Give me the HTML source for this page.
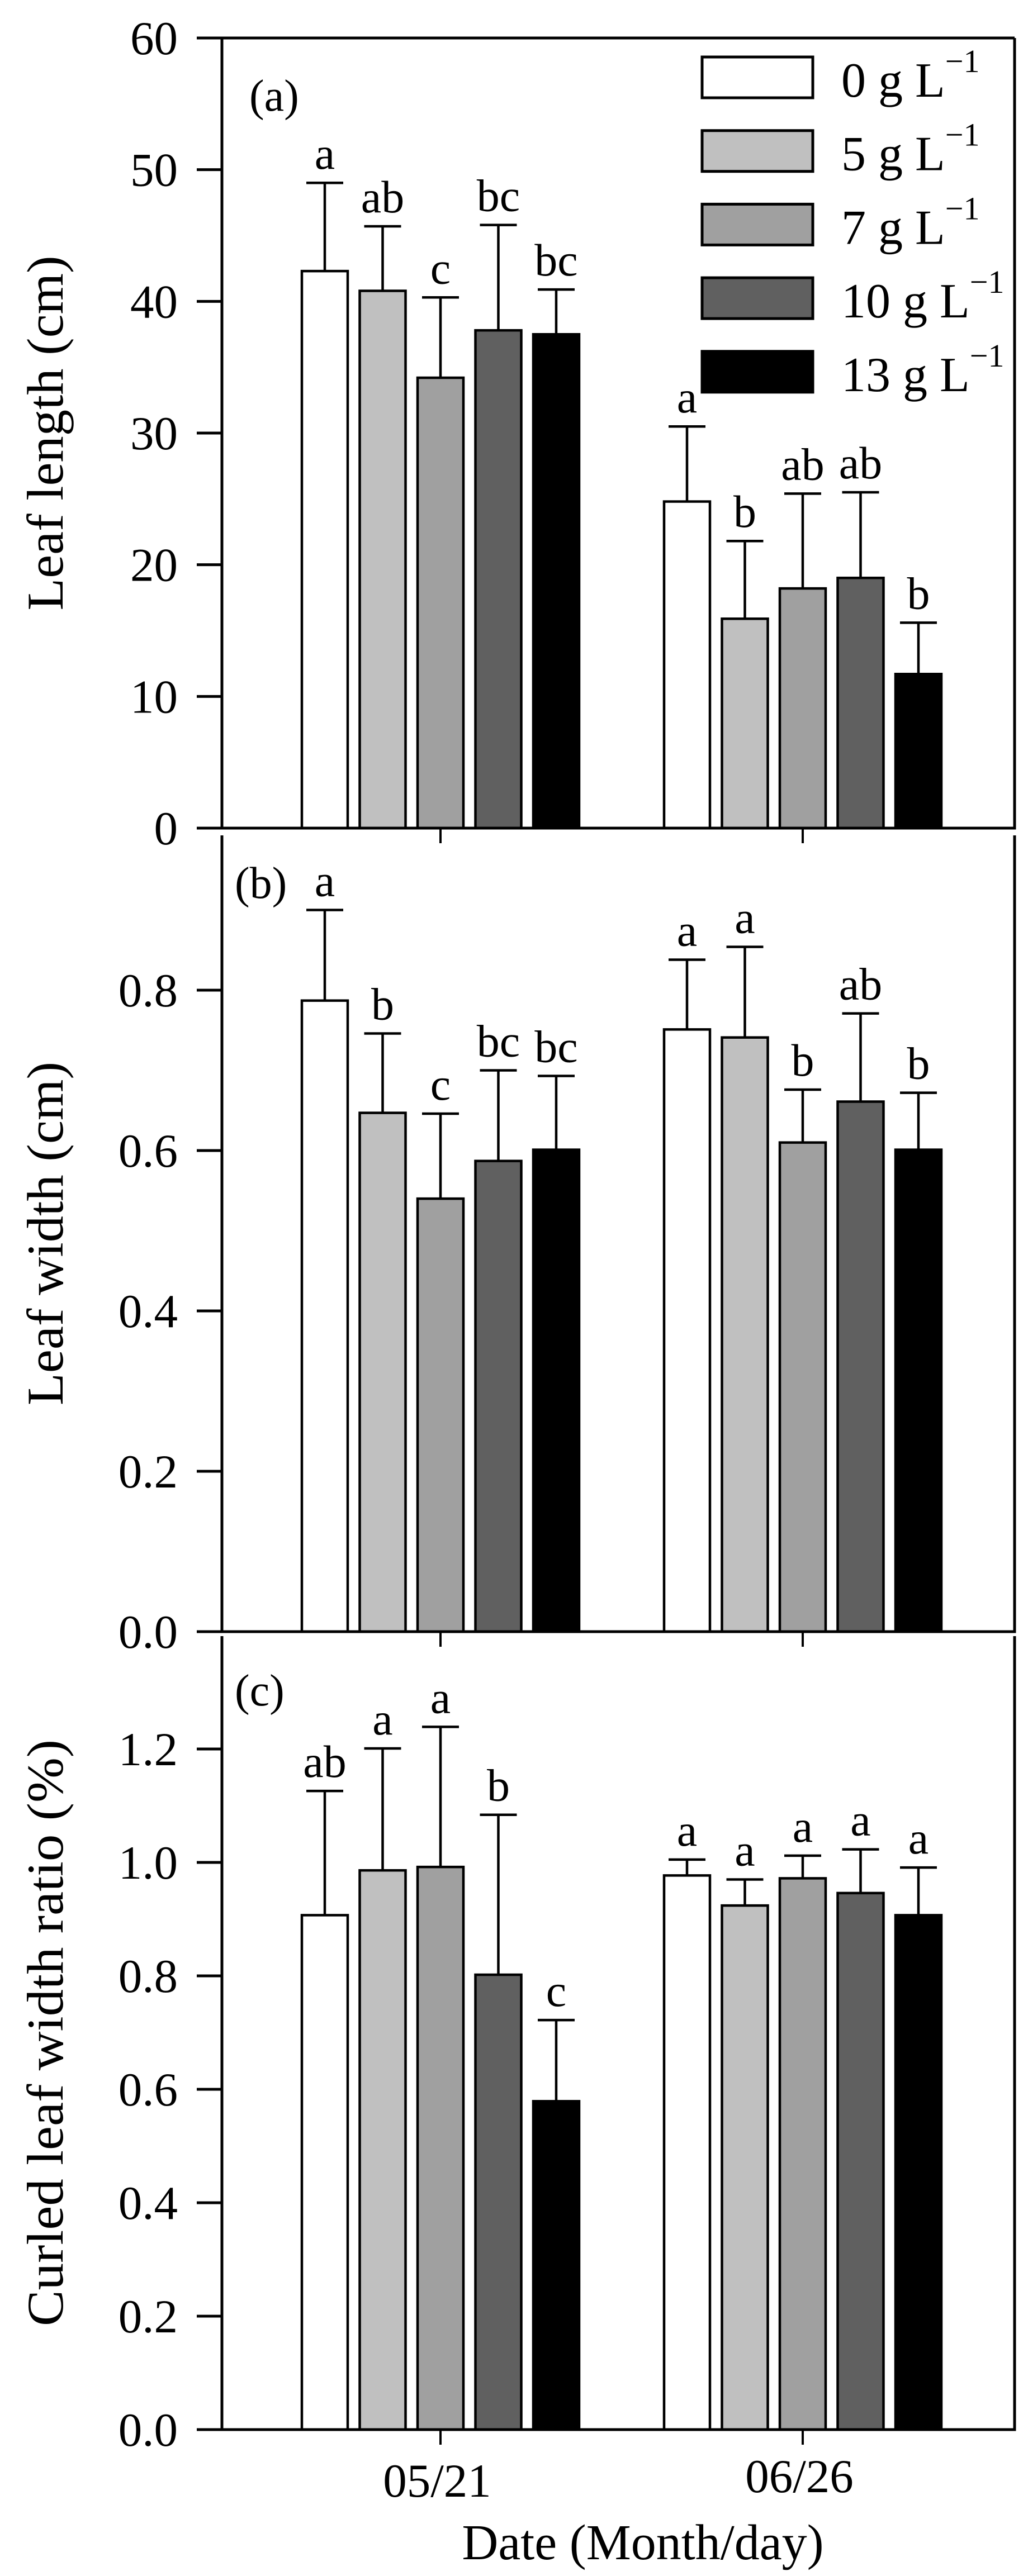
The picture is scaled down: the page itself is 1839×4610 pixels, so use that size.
<!DOCTYPE html>
<html><head><meta charset="utf-8"><style>
html,body{margin:0;padding:0;background:#fff}
svg{display:block}
text{font-family:"Liberation Serif",serif;fill:#000}
</style></head><body>
<svg id="chart" xmlns="http://www.w3.org/2000/svg" width="1839" height="4610" viewBox="0 0 1839 4610"></svg>
<script>
const dates = ["05/21", "06/26"];
const treatments = ["0 g L", "5 g L", "7 g L", "10 g L", "13 g L"];
const fills = ["#ffffff", "#c0c0c0", "#a0a0a0", "#606060", "#000000"];
// Panel (a) leaf length
const lenMean = [[42.3, 40.8, 34.2, 37.8, 37.5], [24.8, 15.9, 18.2, 19.0, 11.7]];
const lenErrTop = [[49.0, 45.7, 40.3, 45.8, 40.9], [30.5, 21.8, 25.4, 25.5, 15.6]];
const lenLetters = [["a", "ab", "c", "bc", "bc"], ["a", "b", "ab", "ab", "b"]];
const lenTicks = [0, 10, 20, 30, 40, 50, 60];
const lenTickLabels = ["0", "10", "20", "30", "40", "50", "60"];
// Panel (b) leaf width
const widMean = [[0.787, 0.647, 0.540, 0.587, 0.601], [0.751, 0.741, 0.610, 0.661, 0.601]];
const widErrTop = [[0.900, 0.746, 0.646, 0.700, 0.693], [0.838, 0.854, 0.676, 0.771, 0.672]];
const widLetters = [["a", "b", "c", "bc", "bc"], ["a", "a", "b", "ab", "b"]];
const widTicks = [0, 0.2, 0.4, 0.6, 0.8];
const widTickLabels = ["0.0", "0.2", "0.4", "0.6", "0.8"];
// Panel (c) curled leaf width ratio
const curMean = [[0.907, 0.986, 0.992, 0.802, 0.579], [0.977, 0.924, 0.972, 0.946, 0.907]];
const curErrTop = [[1.126, 1.201, 1.239, 1.084, 0.722], [1.005, 0.970, 1.012, 1.023, 0.991]];
const curLetters = [["ab", "a", "a", "b", "c"], ["a", "a", "a", "a", "a"]];
const curTicks = [0, 0.2, 0.4, 0.6, 0.8, 1.0, 1.2];
const curTickLabels = ["0.0", "0.2", "0.4", "0.6", "0.8", "1.0", "1.2"];

const NS = "http://www.w3.org/2000/svg";
const svg = document.getElementById("chart");
function mk(tag, attrs, parent) {
  const e = document.createElementNS(NS, tag);
  for (const k in attrs) e.setAttribute(k, attrs[k]);
  (parent || svg).appendChild(e);
  return e;
}
const L = 397, R = 1815, TICK_L = 352;
const groupCenters = [788, 1436];
const pitch = 103.5, barW = 82;
function xBar(g, i) { return groupCenters[g] + (i - 2) * pitch - barW / 2; }

const panels = [
  {id: "a", top: 68, axisTop: 68, bottom: 1482, max: 60, mean: lenMean, err: lenErrTop, letters: lenLetters, ticks: lenTicks, labels: lenTickLabels, title: "Leaf length (cm)", titleLen: 635, tag: "(a)", tagX: 446, tagY: 198, topLine: true},
  {id: "b", top: 1485, axisTop: 1495, bottom: 2920, max: 1.0, mean: widMean, err: widErrTop, letters: widLetters, ticks: widTicks, labels: widTickLabels, title: "Leaf width (cm)", titleLen: 615, tag: "(b)", tagX: 420, tagY: 1607, topLine: false},
  {id: "c", top: 2927, axisTop: 2928, bottom: 4348, max: 1.4, mean: curMean, err: curErrTop, letters: curLetters, ticks: curTicks, labels: curTickLabels, title: "Curled leaf width ratio (%)", titleLen: 1050, tag: "(c)", tagX: 420, tagY: 3052, topLine: false}
];

panels.forEach(p => {
  const g = mk("g", {});
  
  
  const y = v => p.bottom - v / p.max * (p.bottom - p.top);
  p.mean.forEach((grp, gi) => {
    grp.forEach((v, i) => {
      const x = xBar(gi, i);
      const bar = mk("rect", {x: x, y: y(v), width: barW, height: p.bottom - y(v), fill: fills[i], stroke: "#000", "stroke-width": 4.5}, g);
      
      
      const cx = x + barW / 2, et = y(p.err[gi][i]);
      const eb = mk("path", {d: `M${cx},${y(v)}V${et}M${cx - 33},${et}H${cx + 33}`, stroke: "#000", "stroke-width": 4.5, fill: "none"}, g);
      
      
      const t = mk("text", {x: cx, y: et - 25, "font-size": 82, "text-anchor": "middle"}, g);
      t.textContent = p.letters[gi][i];
      
      
    });
  });
  const ax = mk("path", {d: `M${L},${p.axisTop}V${p.bottom}M${TICK_L},${p.bottom}H${R}V${p.axisTop}` + (p.topLine ? `M${TICK_L},${p.top}H${R}` : ""), stroke: "#000", "stroke-width": 5, fill: "none"}, g);
  
  
  p.ticks.forEach((v, k) => {
    const tk = mk("line", {x1: TICK_L, x2: L, y1: y(v), y2: y(v), stroke: "#000", "stroke-width": 5}, g);
    
    
    const tl = mk("text", {x: 318, y: y(v) + 29, "font-size": 85, "text-anchor": "end"}, g);
    tl.textContent = p.labels[k];
    
    
  });
  groupCenters.forEach(cx => {
    const xt = mk("line", {x1: cx, x2: cx, y1: p.bottom, y2: p.bottom + 27, stroke: "#000", "stroke-width": 4}, g);
    
    
  });
  const cy = (p.axisTop + p.bottom) / 2;
  const title = mk("text", {x: 0, y: 0, "font-size": 92, "text-anchor": "middle", textLength: p.titleLen, lengthAdjust: "spacingAndGlyphs", transform: `translate(112,${cy}) rotate(-90)`}, g);
  title.textContent = p.title;
  
  
  const tag = mk("text", {x: p.tagX, y: p.tagY, "font-size": 80}, g);
  tag.textContent = p.tag;
  
  
});

const xlabY = [4468, 4460];
dates.forEach((d, i) => {
  const t = mk("text", {x: groupCenters[i] - 6, y: xlabY[i], "font-size": 85, "text-anchor": "middle"});
  t.textContent = d;
  
  
});
const xt = mk("text", {x: 1150, y: 4580, "font-size": 90, "text-anchor": "middle"});
xt.textContent = "Date (Month/day)";



const lg = mk("g", {});


treatments.forEach((tr, i) => {
  const y0 = 102 + i * 131.7;
  const sw = mk("rect", {x: 1256, y: y0, width: 198, height: 73, fill: fills[i], stroke: "#000", "stroke-width": 5}, lg);
  
  
  const t = mk("text", {x: 1505, y: y0 + 71, "font-size": 88}, lg);
  
  
  t.appendChild(document.createTextNode(tr));
  const sup = mk("tspan", {"font-size": 58, dy: -44}, t);
  sup.textContent = "\u22121";
});
</script>
</body></html>
